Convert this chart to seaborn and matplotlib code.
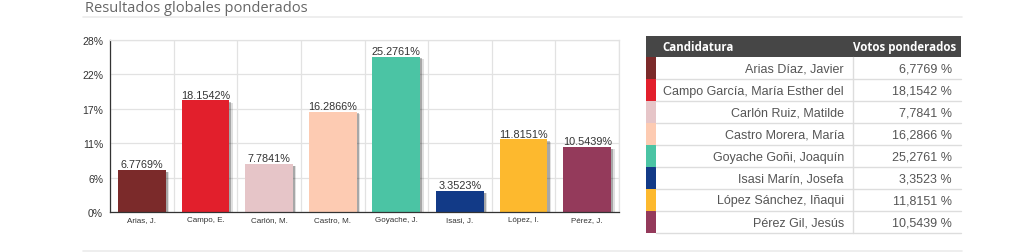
import numpy as np
import pandas as pd
import matplotlib
matplotlib.use("Agg")
import matplotlib.pyplot as plt
import matplotlib.patheffects as pe
from matplotlib.patches import Rectangle
import seaborn as sns

short_names = ["Arias, J.", "Campo, E.", "Carlón, M.", "Castro, M.", "Goyache, J.",
               "Isasi, J.", "López, I.", "Pérez, J."]
full_names = ["Arias Díaz, Javier", "Campo García, María Esther del", "Carlón Ruiz, Matilde",
              "Castro Morera, María", "Goyache Goñi, Joaquín", "Isasi Marín, Josefa",
              "López Sánchez, Iñaqui", "Pérez Gil, Jesús"]
votes = [6.7769, 18.1542, 7.7841, 16.2866, 25.2761, 3.3523, 11.8151, 10.5439]
colors = ["#7b2a2a", "#e21f2c", "#e6c5c8", "#fdcbb2", "#4bc4a4", "#123a87", "#fdb92e", "#943a5b"]
y_ticks = [0, 5.6, 11.2, 16.8, 22.4, 28]
title = "Resultados globales ponderados"
col_headers = ["Candidatura", "Votos ponderados"]

sns.set_theme(style="white")
plt.rcParams['font.family'] = ['Liberation Sans', 'DejaVu Sans']

W, H = 1024, 253
fig = plt.figure(figsize=(W / 100, H / 100), dpi=100)
fig.patch.set_facecolor("white")

# Overlay axes in pixel coordinates for page elements & table
ov = fig.add_axes([0, 0, 1, 1])
ov.set_xlim(0, W)
ov.set_ylim(H, 0)
ov.axis("off")

ov.text(85, 8, title, fontsize=10.5, color="#666666", family=["Open Sans", "DejaVu Sans"],
        va="center", ha="left")
ov.plot([83, 962], [18, 18], color="#ebebeb", lw=1.2)
ov.plot([83, 962], [251.5, 251.5], color="#ebebeb", lw=1.2)

# Bar chart
ax = fig.add_axes([110 / W, 1 - 213 / H, (619 - 110) / W, (213 - 41) / H])
df = pd.DataFrame({"cand": short_names, "votes": votes})
sns.barplot(data=df, x="cand", y="votes", hue="cand", palette=colors, legend=False,
            width=0.75, saturation=1, ax=ax, edgecolor="none")
for p in ax.patches:
    p.set_path_effects([
        pe.SimplePatchShadow(offset=(2.5, -1.5), shadow_rgbFace="black", alpha=0.12),
        pe.SimplePatchShadow(offset=(1.5, -1), shadow_rgbFace="black", alpha=0.25),
        pe.Normal()])
for i, v in enumerate(votes):
    ax.text(i, v + 0.15, f"{v:.4f}%", ha="center", va="bottom", fontsize=7.8, color="#333333")

ax.set_xlim(-0.5, len(votes) - 0.5)
ax.set_ylim(0, 28)
ax.set_yticks(y_ticks)
ax.set_yticklabels([f"{round(t)}%" for t in y_ticks], fontsize=7.5, color="#333333")
ax.set_xticks(range(len(votes)))
ax.set_xticklabels(short_names, fontsize=5.8, color="#333333")
ax.set_xticks(np.arange(-0.5, len(votes), 1), minor=True)
ax.tick_params(axis="x", which="major", length=0, pad=3)
ax.tick_params(axis="x", which="minor", length=3, width=0.8, color="#333333", direction="out")
ax.tick_params(axis="y", length=3, width=0.8, color="#333333", pad=2)
ax.set_xlabel("")
ax.set_ylabel("")
ax.grid(True, axis="y", color="#e2e2e2", lw=0.9)
ax.grid(True, axis="x", which="minor", color="#e2e2e2", lw=0.9)
ax.set_axisbelow(True)
for s in ["top", "right"]:
    ax.spines[s].set_color("#e2e2e2")
    ax.spines[s].set_linewidth(0.9)
for s in ["left", "bottom"]:
    ax.spines[s].set_color("#333333")
    ax.spines[s].set_linewidth(0.9)

# Table
tx0, tx1 = 646, 961
hy0, hy1 = 37, 58
row_h = 22
div_x = 853
ov.add_patch(Rectangle((tx0, hy0), tx1 - tx0, hy1 - hy0, color="#464646", lw=0))
ov.text(662, (hy0 + hy1) / 2, col_headers[0], color="white", fontsize=8.3, weight="bold",
        family=["Open Sans", "DejaVu Sans"], va="center", ha="left")
ov.text(956, (hy0 + hy1) / 2, col_headers[1], color="white", fontsize=8.3, weight="bold",
        family=["Open Sans", "DejaVu Sans"], va="center", ha="right")
for i, (name, v, c) in enumerate(zip(full_names, votes, colors)):
    y0 = hy1 + i * row_h
    ov.add_patch(Rectangle((tx0, y0), 10, row_h, color=c, lw=0))
    ov.plot([tx0 + 10, tx1], [y0 + row_h, y0 + row_h], color="#dddddd", lw=1)
    ov.text(844, y0 + row_h / 2 + 0.5, name, fontsize=9.0, color="#555555", va="center", ha="right")
    ov.text(952, y0 + row_h / 2 + 0.5, f"{v:.4f}".replace(".", ",") + " %", fontsize=9.0,
            color="#555555", va="center", ha="right")
ov.plot([div_x, div_x], [hy1, hy1 + row_h * len(votes)], color="#dddddd", lw=1)

fig.savefig("out.png", dpi=100, facecolor="white")
